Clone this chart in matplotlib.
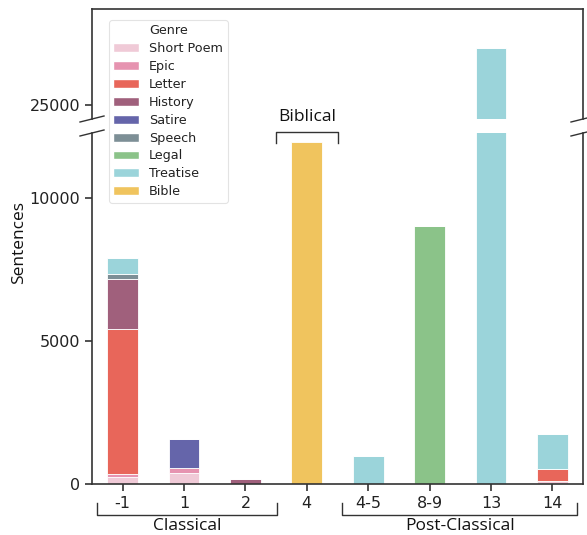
import matplotlib
matplotlib.use("Agg")
import matplotlib.pyplot as plt
import numpy as np
from matplotlib.patches import Patch
from matplotlib.lines import Line2D

# ---- data ----
periods = ["-1", "1", "2", "4", "4-5", "8-9", "13", "14"]
genres = ["Short Poem", "Epic", "Letter", "History", "Satire", "Speech", "Legal", "Treatise", "Bible"]
short_poem = [250, 400, 0, 0, 0, 0, 0, 100]
epic       = [100, 170, 0, 0, 0, 0, 0, 0]
letter     = [5080, 0, 0, 0, 0, 0, 0, 420]
history    = [1750, 0, 160, 0, 0, 0, 0, 0]
satire     = [0, 990, 0, 0, 0, 0, 0, 0]
speech     = [160, 0, 0, 0, 0, 0, 0, 0]
legal      = [0, 0, 0, 0, 0, 9020, 0, 0]
treatise   = [550, 0, 0, 0, 980, 0, 27000, 1230]
bible      = [0, 0, 0, 11950, 0, 0, 0, 0]
series = [short_poem, epic, letter, history, satire, speech, legal, treatise, bible]
colors = ["#f0cad7", "#e693b0", "#e8665a", "#a0607c", "#6565aa",
          "#7d8f96", "#8bc389", "#9bd4da", "#f0c45e"]

W, H = 587, 535
fig = plt.figure(figsize=(W / 100, H / 100), dpi=100)

def px(x0, y0, x1, y1):
    return [x0 / W, (H - y1) / H, (x1 - x0) / W, (y1 - y0) / H]

ax_top = fig.add_axes(px(92, 9, 583, 119))
ax_bot = fig.add_axes(px(92, 133, 583, 484))

x = np.arange(len(periods))
for ax in (ax_top, ax_bot):
    bottom = np.zeros(len(periods))
    for vals, c in zip(series, colors):
        v = np.array(vals, dtype=float)
        ax.bar(x, v, 0.5, bottom=bottom, color=c, edgecolor="white", linewidth=0.6)
        bottom += v
    ax.set_xlim(-0.5, 7.5)
    for s in ax.spines.values():
        s.set_color("#333333")
        s.set_linewidth(1.2)

ax_bot.set_ylim(0, 12273)
ax_top.set_ylim(24510, 28356)

ax_top.spines["bottom"].set_visible(False)
ax_bot.spines["top"].set_visible(False)
ax_top.tick_params(axis="x", bottom=False, labelbottom=False)
ax_top.set_yticks([25000])
ax_bot.set_yticks([0, 5000, 10000])
ax_bot.set_xticks(x)
ax_bot.set_xticklabels(periods)
for ax in (ax_top, ax_bot):
    ax.tick_params(axis="both", labelsize=11.5, colors="#222222", length=5, width=1.1,
                   labelcolor="#222222")

# break marks
def pline(xs, ys, **kw):
    fig.add_artist(Line2D([v / W for v in xs], [1 - v / H for v in ys],
                          transform=fig.transFigure, color="#333333", lw=1.0, **kw))

for sx in (92, 583):
    pline([sx - 12, sx + 12], [122, 116])
    pline([sx - 12, sx + 12], [136, 130])

# legend (title drawn as first entry, seaborn style)
handles = [Patch(facecolor="none", edgecolor="none", label="Genre")]
handles += [Patch(facecolor=c, edgecolor="white", label=g) for g, c in zip(genres, colors)]
leg = fig.legend(handles=handles, loc="upper left",
                 bbox_to_anchor=(109 / W, 1 - 20 / H), borderaxespad=0,
                 fontsize=9.2, frameon=True, fancybox=True, borderpad=0.35,
                 labelspacing=0.38, handlelength=2.0, handleheight=0.7,
                 handletextpad=0.8)
leg.get_frame().set_edgecolor("#dddddd")
leg.get_frame().set_linewidth(0.8)
for t in leg.get_texts():
    t.set_color("#222222")

# annotation brackets and labels
fam = ["Open Sans", "DejaVu Sans"]
def bracket(x0, x1, y_end, y_bar):
    pline([x0, x0, x1, x1], [y_end, y_bar, y_bar, y_end], solid_joinstyle="round")

bracket(97, 277, 503, 515)
bracket(342, 577, 503, 515)
bracket(276, 338, 143, 132)

def ptext(xc, yc, s, size):
    fig.text(xc / W, 1 - yc / H, s, ha="center", va="center", fontsize=size,
             family=fam, color="#111111")

ptext(187, 526, "Classical", 12.5)
ptext(460, 526, "Post-Classical", 12.5)
ptext(307, 117, "Biblical", 12.5)
fig.text(19 / W, 1 - 243 / H, "Sentences", ha="center", va="center", rotation=90,
         fontsize=12.5, family=fam, color="#111111")

fig.savefig("out.png", dpi=100)
